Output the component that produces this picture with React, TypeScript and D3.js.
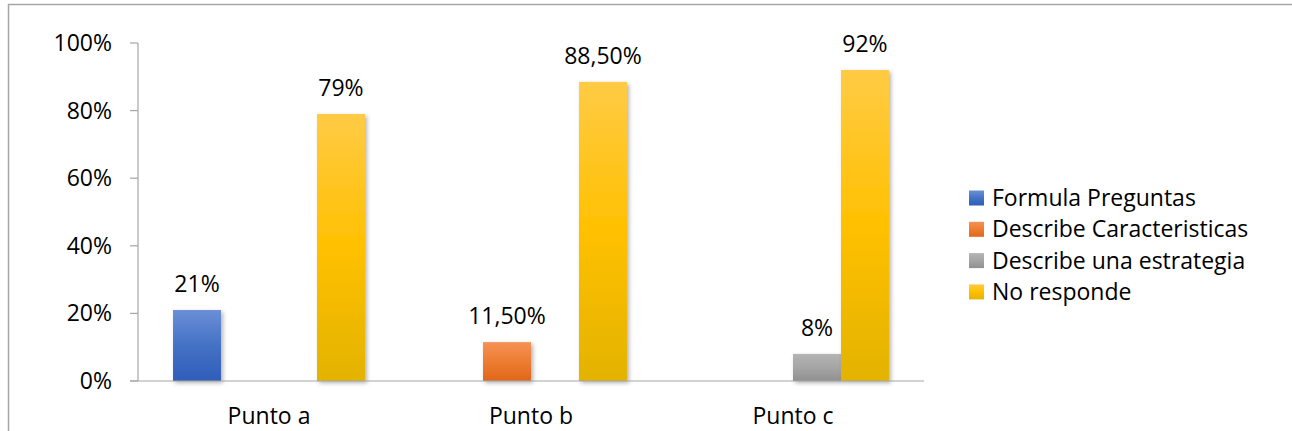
import React from "react";
import * as d3 from "d3";

const categories = ["Punto a", "Punto b", "Punto c"];
const seriesNames = ["Formula Preguntas", "Describe Caracteristicas", "Describe una estrategia", "No responde"];
// values per series, per category (null = no bar)
const formulaPreguntas = [21, null, null];
const describeCaracteristicas = [null, 11.5, null];
const describeEstrategia = [null, null, 8];
const noResponde = [79, 88.5, 92];
const valueLabels = [
  ["21%", null, null],
  [null, "11,50%", null],
  [null, null, "8%"],
  ["79%", "88,50%", "92%"],
];
const yTicks = [0, 20, 40, 60, 80, 100];

const seriesValues = [formulaPreguntas, describeCaracteristicas, describeEstrategia, noResponde];
const gradients = [
  ["#6B8FD6", "#4472C4", "#2F5DBA"],
  ["#F59256", "#ED7D31", "#E0671A"],
  ["#B4B4B4", "#A5A5A5", "#909090"],
  ["#FFCB45", "#FFC000", "#E3B300"],
];

const W = 1292;
const H = 431;
const FONT = "'Open Sans', 'Noto Sans', sans-serif";
const FS = 23;

export default function App() {
  const plotLeft = 138;
  const plotRight = 924;
  const y = d3.scaleLinear().domain([0, 100]).range([381, 43]);
  const x0 = d3.scaleBand<string>().domain(categories).range([plotLeft, plotRight]).padding(0);
  const gap = 0.73;
  const x1 = d3
    .scaleBand<number>()
    .domain(d3.range(seriesNames.length))
    .range([0, x0.bandwidth()])
    .paddingInner(0)
    .paddingOuter(gap);

  return (
    <svg
      width={W}
      height={H}
      style={{ position: "absolute", left: 0, top: 0, background: "#fff" }}
      fontFamily={FONT}
    >
      <defs>
        {gradients.map((g, i) => (
          <linearGradient key={i} id={`grad${i}`} x1="0" y1="0" x2="0" y2="1">
            <stop offset="0%" stopColor={g[0]} />
            <stop offset="50%" stopColor={g[1]} />
            <stop offset="100%" stopColor={g[2]} />
          </linearGradient>
        ))}
        <filter id="shadow" x="-30%" y="-10%" width="160%" height="130%">
          <feDropShadow dx="2" dy="2" stdDeviation="2" floodColor="#000" floodOpacity="0.3" />
        </filter>
      </defs>
      <rect x={8.5} y={4.5} width={W + 20} height={H + 20} fill="#fff" stroke="#A6A6A6" strokeWidth={1.5} />

      {/* y axis */}
      <line x1={plotLeft} x2={plotLeft} y1={y(100)} y2={y(0)} stroke="#A6A6A6" strokeWidth={1.2} />
      {yTicks.map((t) => (
        <g key={t}>
          <line x1={plotLeft - 8} x2={plotLeft} y1={y(t)} y2={y(t)} stroke="#A6A6A6" strokeWidth={1.2} />
          <text x={112} y={y(t)} dy="0.35em" textAnchor="end" fontSize={FS} fill="#000">
            {t}%
          </text>
        </g>
      ))}

      {/* bars */}
      {seriesValues.map((vals, si) =>
        vals.map((v, ci) =>
          v == null ? null : (
            <rect
              key={`${si}-${ci}`}
              x={(x0(categories[ci]) as number) + (x1(si) as number)}
              y={y(v)}
              width={x1.bandwidth()}
              height={y(0) - y(v)}
              fill={`url(#grad${si})`}
              filter="url(#shadow)"
            />
          )
        )
      )}

      {/* x axis */}
      <line x1={plotLeft - 8} x2={plotRight} y1={y(0)} y2={y(0)} stroke="#A6A6A6" strokeWidth={1.2} />

      {/* value labels */}
      {seriesValues.map((vals, si) =>
        vals.map((v, ci) =>
          v == null ? null : (
            <text
              key={`l${si}-${ci}`}
              x={(x0(categories[ci]) as number) + (x1(si) as number) + x1.bandwidth() / 2}
              y={y(v) - 18}
              textAnchor="middle"
              fontSize={FS}
              fill="#000"
            >
              {valueLabels[si][ci]}
            </text>
          )
        )
      )}

      {/* category labels */}
      {categories.map((c) => (
        <text
          key={c}
          x={(x0(c) as number) + x0.bandwidth() / 2}
          y={424}
          textAnchor="middle"
          fontSize={FS}
          fill="#000"
        >
          {c}
        </text>
      ))}

      {/* legend */}
      {seriesNames.map((s, i) => {
        const cy = 198 + i * 31.3;
        return (
          <g key={s}>
            <rect x={969} y={cy - 7.5} width={15} height={15} fill={`url(#grad${i})`} />
            <text x={992} y={cy} dy="0.35em" fontSize={FS} fill="#000">
              {s}
            </text>
          </g>
        );
      })}
    </svg>
  );
}
